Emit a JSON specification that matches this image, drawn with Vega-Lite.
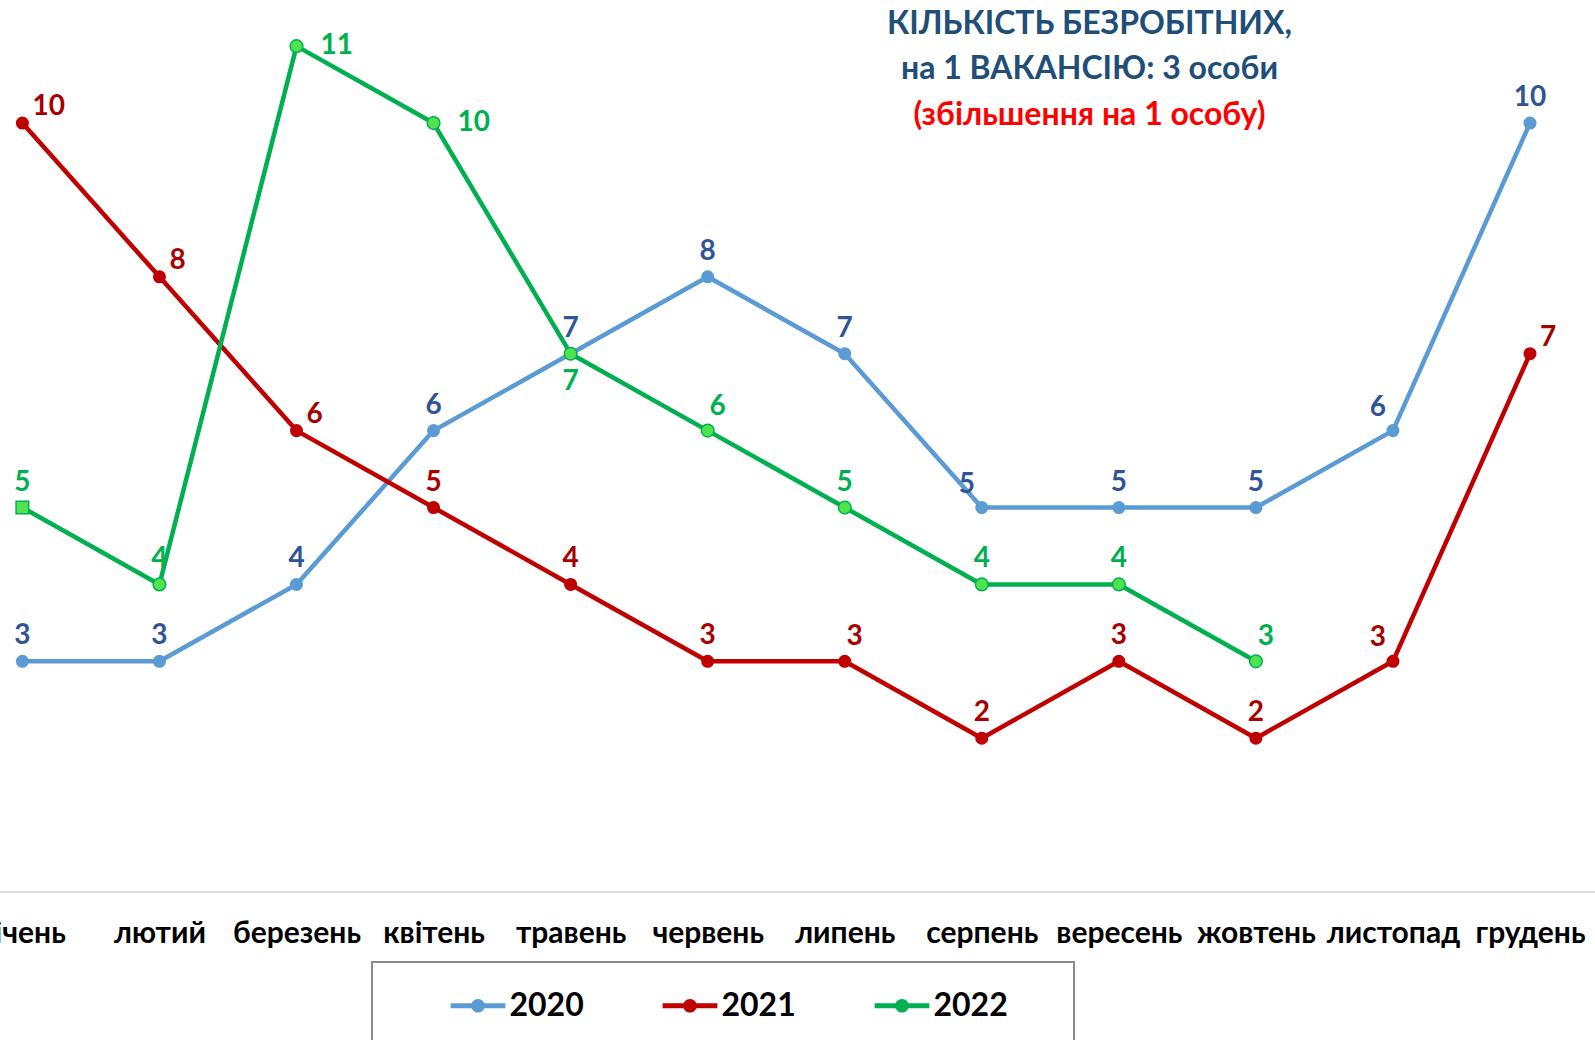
{
  "$schema": "https://vega.github.io/schema/vega-lite/v6.json",
  "autosize": {"type": "none"},
  "padding": {"left": 0, "right": 0, "top": 0, "bottom": 148},
  "width": 1595,
  "height": 892,
  "background": "white",
  "config": {"view": {"stroke": null}, "font": "Lato"},
  "title": {
    "text": ["КІЛЬКІСТЬ БЕЗРОБІТНИХ,", "на 1 ВАКАНСІЮ: 3 особи"],
    "subtitle": "(збільшення на 1 особу)",
    "anchor": "middle",
    "frame": "group",
    "dx": 292,
    "offset": -132,
    "font": "Lato",
    "fontSize": 32,
    "fontWeight": "bold",
    "color": "#1F4E79",
    "lineHeight": 45,
    "subtitleFont": "Lato",
    "subtitleFontSize": 32,
    "subtitleFontWeight": "bold",
    "subtitleColor": "#FF0000",
    "subtitleLineHeight": 45,
    "subtitlePadding": 14
  },
  "data": {
    "values": [
      {"month": "січень", "year": "2020", "value": 3},
      {"month": "лютий", "year": "2020", "value": 3},
      {"month": "березень", "year": "2020", "value": 4},
      {"month": "квітень", "year": "2020", "value": 6},
      {"month": "травень", "year": "2020", "value": 7},
      {"month": "червень", "year": "2020", "value": 8},
      {"month": "липень", "year": "2020", "value": 7},
      {"month": "серпень", "year": "2020", "value": 5},
      {"month": "вересень", "year": "2020", "value": 5},
      {"month": "жовтень", "year": "2020", "value": 5},
      {"month": "листопад", "year": "2020", "value": 6},
      {"month": "грудень", "year": "2020", "value": 10},
      {"month": "січень", "year": "2021", "value": 10},
      {"month": "лютий", "year": "2021", "value": 8},
      {"month": "березень", "year": "2021", "value": 6},
      {"month": "квітень", "year": "2021", "value": 5},
      {"month": "травень", "year": "2021", "value": 4},
      {"month": "червень", "year": "2021", "value": 3},
      {"month": "липень", "year": "2021", "value": 3},
      {"month": "серпень", "year": "2021", "value": 2},
      {"month": "вересень", "year": "2021", "value": 3},
      {"month": "жовтень", "year": "2021", "value": 2},
      {"month": "листопад", "year": "2021", "value": 3},
      {"month": "грудень", "year": "2021", "value": 7},
      {"month": "січень", "year": "2022", "value": 5},
      {"month": "лютий", "year": "2022", "value": 4},
      {"month": "березень", "year": "2022", "value": 11},
      {"month": "квітень", "year": "2022", "value": 10},
      {"month": "травень", "year": "2022", "value": 7},
      {"month": "червень", "year": "2022", "value": 6},
      {"month": "липень", "year": "2022", "value": 5},
      {"month": "серпень", "year": "2022", "value": 4},
      {"month": "вересень", "year": "2022", "value": 4},
      {"month": "жовтень", "year": "2022", "value": 3}
    ]
  },
  "encoding": {
    "x": {
      "field": "month",
      "type": "ordinal",
      "sort": ["січень", "лютий", "березень", "квітень", "травень", "червень", "липень", "серпень", "вересень", "жовтень", "листопад", "грудень"],
      "scale": {"type": "point", "range": [22.4, 1530], "padding": 0},
      "axis": {
        "title": null, "domain": false, "ticks": false, "grid": false,
        "labelFont": "Lato", "labelFontSize": 30, "labelFontWeight": "bold", "labelColor": "#000000",
        "labelPadding": 26, "labelOverlap": false, "labelFlush": false, "labelAngle": 0
      }
    },
    "y": {
      "field": "value",
      "type": "quantitative",
      "scale": {"domain": [0, 11.6], "nice": false, "zero": true},
      "axis": null
    }
  },
  "layer": [
    {
      "mark": {"type": "line", "strokeWidth": 4.5, "strokeJoin": "round", "strokeCap": "round"},
      "encoding": {
        "color": {
          "field": "year",
          "type": "nominal",
          "scale": {"domain": ["2020", "2021", "2022"], "range": ["#5B9BD5", "#C00000", "#00B050"]},
          "legend": {
            "orient": "none",
            "legendX": 372,
            "legendY": 962,
            "direction": "horizontal",
            "title": "\u00a0",
            "titleOrient": "left",
            "titleFontSize": 70,
            "titleAnchor": "start",
            "titleBaseline": "top",
            "titlePadding": 62.5,
            "strokeColor": "#8C8C8C",
            "padding": 16,
            "symbolType": "M-1,-0.09H1V0.09H-1Z M0.25,0A0.25,0.25 0 1,1 -0.25,0A0.25,0.25 0 1,1 0.25,0Z",
            "symbolSize": 3000,
            "symbolStrokeWidth": 0,
            "labelFont": "Lato",
            "labelFontSize": 32,
            "labelFontWeight": "bold",
            "labelColor": "#000000",
            "labelOffset": 4,
            "columnPadding": 78,
            "labelExpr": "datum.label == '2022' ? '2022\u2009\u2800\u2800' : datum.label",
            "encode": {
              "legend": {"update": {"strokeWidth": {"value": 2}}},
              "symbols": {
                "update": {
                  "fill": {"scale": "color", "field": "value"},
                  "strokeWidth": {"value": 0}
                }
              }
            }
          }
        }
      }
    },
    {
      "transform": [{"filter": "datum.year != '2022'"}],
      "mark": {"type": "point", "filled": true, "size": 170, "opacity": 1, "shape": "circle"},
      "encoding": {
        "color": {"field": "year", "type": "nominal"}
      }
    },
    {
      "transform": [{"filter": "datum.year == '2022'"}],
      "mark": {"type": "point", "filled": true, "size": 160, "opacity": 1, "fill": "#4FE34F", "stroke": "#00B050", "strokeWidth": 1.5},
      "encoding": {
        "shape": {"condition": {"test": "datum.month == 'січень'", "value": "square"}, "value": "circle"}
      }
    },
    {
      "transform": [{"filter": "!((datum.year == '2021' && indexof(['січень','лютий','березень','грудень','листопад','липень'], datum.month) >= 0) || (datum.year == '2022' && indexof(['березень','квітень','травень','червень','жовтень'], datum.month) >= 0) || (datum.year == '2020' && indexof(['серпень','листопад'], datum.month) >= 0))"}],
      "mark": {"type": "text", "font": "Lato", "fontSize": 28, "fontWeight": "bold", "baseline": "middle", "align": "center", "dy": -25},
      "encoding": {
        "text": {"field": "value", "type": "quantitative"},
        "fill": {"field": "year", "type": "nominal", "scale": {"domain": ["2020", "2021", "2022"], "range": ["#2F5597", "#A80000", "#00B050"]}, "legend": null}
      }
    },
    {
      "transform": [{"filter": "(datum.year == '2020' && indexof(['серпень','листопад'], datum.month) >= 0) || (datum.year == '2021' && datum.month == 'листопад')"}],
      "mark": {"type": "text", "font": "Lato", "fontSize": 28, "fontWeight": "bold", "baseline": "middle", "align": "center", "dx": -15, "dy": -23},
      "encoding": {
        "text": {"field": "value", "type": "quantitative"},
        "fill": {"field": "year", "type": "nominal", "scale": {"domain": ["2020", "2021", "2022"], "range": ["#2F5597", "#A80000", "#00B050"]}, "legend": null}
      }
    },
    {
      "transform": [{"filter": "(datum.year == '2022' && indexof(['червень','жовтень'], datum.month) >= 0) || (datum.year == '2021' && datum.month == 'липень')"}],
      "mark": {"type": "text", "font": "Lato", "fontSize": 28, "fontWeight": "bold", "baseline": "middle", "align": "center", "dx": 10, "dy": -24},
      "encoding": {
        "text": {"field": "value", "type": "quantitative"},
        "fill": {"field": "year", "type": "nominal", "scale": {"domain": ["2020", "2021", "2022"], "range": ["#2F5597", "#A80000", "#00B050"]}, "legend": null}
      }
    },
    {
      "transform": [{"filter": "datum.year == '2021' && indexof(['січень','лютий','березень','грудень'], datum.month) >= 0"}],
      "mark": {"type": "text", "font": "Lato", "fontSize": 28, "fontWeight": "bold", "baseline": "middle", "align": "left", "dx": 10, "dy": -16},
      "encoding": {
        "text": {"field": "value", "type": "quantitative"},
        "fill": {"field": "year", "type": "nominal", "scale": {"domain": ["2020", "2021", "2022"], "range": ["#2F5597", "#A80000", "#00B050"]}, "legend": null}
      }
    },
    {
      "transform": [{"filter": "datum.year == '2022' && indexof(['березень','квітень'], datum.month) >= 0"}],
      "mark": {"type": "text", "font": "Lato", "fontSize": 28, "fontWeight": "bold", "baseline": "middle", "align": "left", "dx": 24, "dy": 0},
      "encoding": {
        "text": {"field": "value", "type": "quantitative"},
        "fill": {"field": "year", "type": "nominal", "scale": {"domain": ["2020", "2021", "2022"], "range": ["#2F5597", "#A80000", "#00B050"]}, "legend": null}
      }
    },
    {
      "transform": [{"filter": "datum.year == '2022' && datum.month == 'травень'"}],
      "mark": {"type": "text", "font": "Lato", "fontSize": 28, "fontWeight": "bold", "baseline": "middle", "align": "center", "dy": 28},
      "encoding": {
        "text": {"field": "value", "type": "quantitative"},
        "fill": {"field": "year", "type": "nominal", "scale": {"domain": ["2020", "2021", "2022"], "range": ["#2F5597", "#A80000", "#00B050"]}, "legend": null}
      }
    },
    {
      "mark": {"type": "rule", "color": "#D9D9D9", "strokeWidth": 2},
      "encoding": {"x": null, "y": {"datum": 0, "type": "quantitative"}}
    }
  ]
}
